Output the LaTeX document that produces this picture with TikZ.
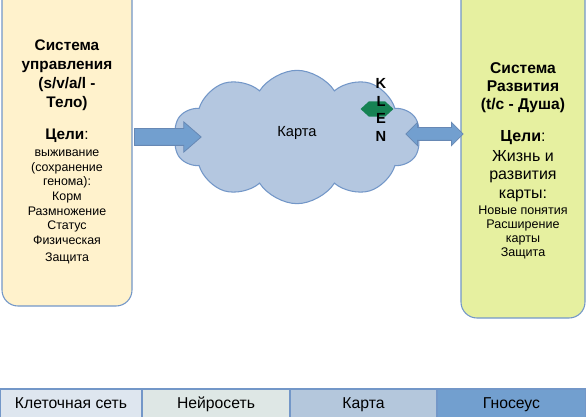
\documentclass[tikz,border=0pt]{standalone}
\usepackage{fontspec}
\setmainfont{Liberation Sans}
\usetikzlibrary{shapes.symbols,shapes.arrows,shapes.geometric}
\definecolor{edgeblue}{HTML}{7397C8}
\definecolor{bodyfill}{HTML}{FFF2CC}
\definecolor{soulfill}{HTML}{E6F0A0}
\definecolor{mapfill}{HTML}{B4C7E0}
\definecolor{arrowfill}{HTML}{729FCF}
\definecolor{klenfill}{HTML}{168253}
\definecolor{cellfill}{HTML}{DEE6EF}
\definecolor{neurofill}{HTML}{DEE7E5}
\definecolor{cardfill}{HTML}{B4C7DC}
\definecolor{gnosfill}{HTML}{729FCF}
\tikzset{
  sysbox/.style={draw=edgeblue,line width=.8pt,rounded corners=12pt,inner sep=0pt,outer sep=0pt},
  bigtxt/.style={align=center,font=\fontsize{11.5}{14.3}\selectfont},
  smalltxt/.style={align=center,font=\fontsize{9.3}{10.9}\selectfont},
  blockarrow/.style={single arrow,draw=edgeblue!90!black,fill=arrowfill,line width=.6pt,
    inner xsep=0pt,inner ysep=6pt,single arrow head extend=5pt,single arrow tip angle=82},
  dblarrow/.style={double arrow,draw=edgeblue!90!black,fill=arrowfill,line width=.6pt,
    inner xsep=0pt,inner ysep=4.5pt,double arrow head extend=4pt},
  layer/.style={draw=edgeblue,line width=1pt,minimum height=22pt,inner sep=0pt,outer sep=0pt,
    text height=1.6ex,text depth=.3ex,font=\fontsize{11.8}{14}\selectfont}
}
\begin{document}
\begin{tikzpicture}[x=0.75pt,y=-0.75pt]
\clip (0,0) rectangle (586,417);
\fill[white] (0,0) rectangle (586,417);
\node[sysbox,fill=bodyfill,minimum width=97.5pt,minimum height=244.5pt] (body) at (67,143) {};
\node[sysbox,fill=soulfill,minimum width=93pt,minimum height=253.5pt] (soul) at (523,149) {};
\node[bigtxt,font=\bfseries\fontsize{11.5}{14.2}\selectfont] (bodytitle) at (67,75) {Система\\управления\\(s/v/a/l -\\Тело)};
\node[bigtxt] (bodygoal) at (67,136) {\textbf{Цели}:};
\node[smalltxt] (bodylist) at (67,207) {выживание\\(сохранение\\генома):\\Корм\\Размножение\\Статус\\Физическая\\[2pt]Защита};
\node[bigtxt,font=\bfseries\fontsize{11.7}{13.6}\selectfont] (soultitle) at (523,88) {Система\\Развития\\(t/c - Душа)};
\node[bigtxt,font=\fontsize{12}{14}\selectfont] (soulgoal) at (523,138) {\textbf{Цели}:};
\node[bigtxt,font=\fontsize{12}{14}\selectfont] (soulaim) at (523,176) {Жизнь и\\развития\\карты:};
\node[smalltxt,font=\fontsize{9.4}{10.5}\selectfont] (soullist) at (523,232) {Новые понятия\\Расширение\\карты\\Защита};
\node[cloud,cloud puffs=10,cloud puff arc=115,aspect=1.8,draw=edgeblue,fill=mapfill,line width=.8pt,
  minimum width=185pt,minimum height=100pt] (map) at (297,137) {};
\node[font=\fontsize{11}{13}\selectfont] (maplbl) at (297,133) {Карта};
\node[blockarrow,minimum height=50pt] (tomap) at (163,137) {};
\node[dblarrow,minimum height=43pt] (mapsoul) at (434.5,134) {};
\node[regular polygon,regular polygon sides=6,fill=klenfill,minimum size=13pt,inner sep=0pt,
  xscale=1.9,transform shape] (klen) at (377,109) {};
\node[align=center,font=\bfseries\fontsize{11}{13.3}\selectfont] (klenlbl) at (381,110) {K\\L\\E\\N};
\node[layer,fill=cellfill,minimum width=106.5pt] (cells) at (71,403.5) {Клеточная сеть};
\node[layer,fill=neurofill,minimum width=111pt] (neuro) at (216,403.5) {Нейросеть};
\node[layer,fill=cardfill,minimum width=110.25pt] (card) at (363.5,403.5) {Карта};
\node[layer,fill=gnosfill,minimum width=111.75pt] (gnos) at (511.5,403.5) {Гносеус};
\end{tikzpicture}
\end{document}
